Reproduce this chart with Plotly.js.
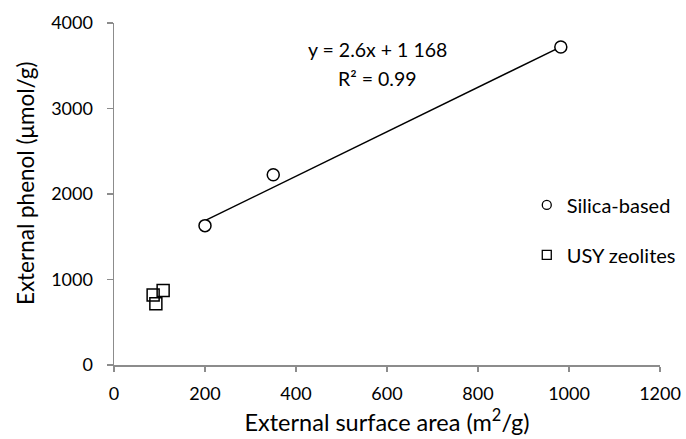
<!DOCTYPE html>
<html>
<head>
<meta charset="utf-8">
<script src="https://cdn.plot.ly/plotly-3.0.1.min.js"></script>
<style>html,body{margin:0;padding:0;background:#fff;}#chart{width:686px;height:439px;}</style>
</head>
<body>
<div id="chart"></div>
<script>
// Data
const silicaX = [200, 350, 982];
const silicaY = [1630, 2225, 3720];
const usyX = [86, 92, 108];
const usyY = [820, 715, 870];
const trendSlope = 2.6;
const trendIntercept = 1168;
const trendXRange = [200, 982];
const xTicks = [0, 200, 400, 600, 800, 1000, 1200];
const yTicks = [0, 1000, 2000, 3000, 4000];
const seriesNames = ["Silica-based", "USY zeolites"];
const equationText = "y = 2.6x + 1 168";
const r2Text = "R² = 0.99";
const xTitle = "External surface area (m<sup>2</sup>/g)";
const yTitle = "External phenol (μmol/g)";

const FONT = "Lato, 'Open Sans', sans-serif";
const axisGray = "#8c8c8c";

const trendY = trendXRange.map(x => trendSlope * x + trendIntercept);

const traces = [
  {x: trendXRange, y: trendY, mode: "lines", line: {color: "#000", width: 1.5}, showlegend: false, hoverinfo: "skip"},
  {x: silicaX, y: silicaY, mode: "markers", name: seriesNames[0], showlegend: false,
   marker: {symbol: "circle", size: 12, color: "#fff", line: {color: "#000", width: 1.5}}},
  {x: usyX, y: usyY, mode: "markers", name: seriesNames[1], showlegend: false,
   marker: {symbol: "square", size: 12, color: "rgba(255,255,255,0)", line: {color: "#000", width: 1.5}}},
  // legend entries
  {x: [null], y: [null], mode: "markers", name: seriesNames[0], legendgroup: "a",
   marker: {symbol: "circle", size: 9, color: "#fff", line: {color: "#000", width: 1.3}}},
  {x: [null], y: [null], mode: "markers", name: seriesNames[1], legendgroup: "b",
   marker: {symbol: "square", size: 9, color: "#fff", line: {color: "#000", width: 1.3}}}
];

const layout = {
  width: 686, height: 439,
  margin: {l: 114, r: 26, t: 23, b: 74, autoexpand: false},
  paper_bgcolor: "#fff", plot_bgcolor: "#fff",
  font: {family: FONT, color: "#000"},
  xaxis: {
    range: [0, 1200], tickvals: xTicks, ticktext: xTicks.map(String),
    showgrid: false, zeroline: false, showline: true, linecolor: axisGray, linewidth: 1.5,
    ticks: "outside", ticklen: 5, tickcolor: axisGray, tickwidth: 1.5,
    tickfont: {size: 18, family: FONT, color: "#000"}, ticklabelstandoff: 7,
    title: {text: xTitle, font: {size: 23.5, family: FONT, color: "#000"}, standoff: 11},
    automargin: false, fixedrange: true
  },
  yaxis: {
    range: [0, 4000], tickvals: yTicks, ticktext: yTicks.map(String),
    showgrid: false, zeroline: false, showline: true, linecolor: axisGray, linewidth: 1.5,
    ticks: "outside", ticklen: 6, tickcolor: axisGray, tickwidth: 1.5,
    tickfont: {size: 18, family: FONT, color: "#000"}, ticklabelstandoff: 10,
    automargin: false, fixedrange: true
  },
  legend: {
    x: 0.756, y: 0.525, xanchor: "left", yanchor: "top",
    font: {size: 20, family: FONT, color: "#000"},
    bgcolor: "rgba(0,0,0,0)", traceorder: "grouped", tracegroupgap: 21,
    itemwidth: 30
  },
  annotations: [
    {xref: "paper", yref: "paper", x: 0.482, y: 0.922, text: equationText, showarrow: false,
     xanchor: "center", yanchor: "middle", font: {size: 19.5, family: FONT, color: "#000"}},
    {xref: "paper", yref: "paper", x: 0.482, y: 0.839, text: r2Text, showarrow: false,
     xanchor: "center", yanchor: "middle", font: {size: 19.5, family: FONT, color: "#000"}},
    {xref: "paper", yref: "paper", x: -0.163, y: 0.529, text: yTitle, showarrow: false,
     textangle: -90, xanchor: "center", yanchor: "middle", font: {size: 22.5, family: FONT, color: "#000"}}
  ],
  showlegend: true
};

Plotly.newPlot("chart", traces, layout, {displayModeBar: false, staticPlot: true});
</script>
</body>
</html>
